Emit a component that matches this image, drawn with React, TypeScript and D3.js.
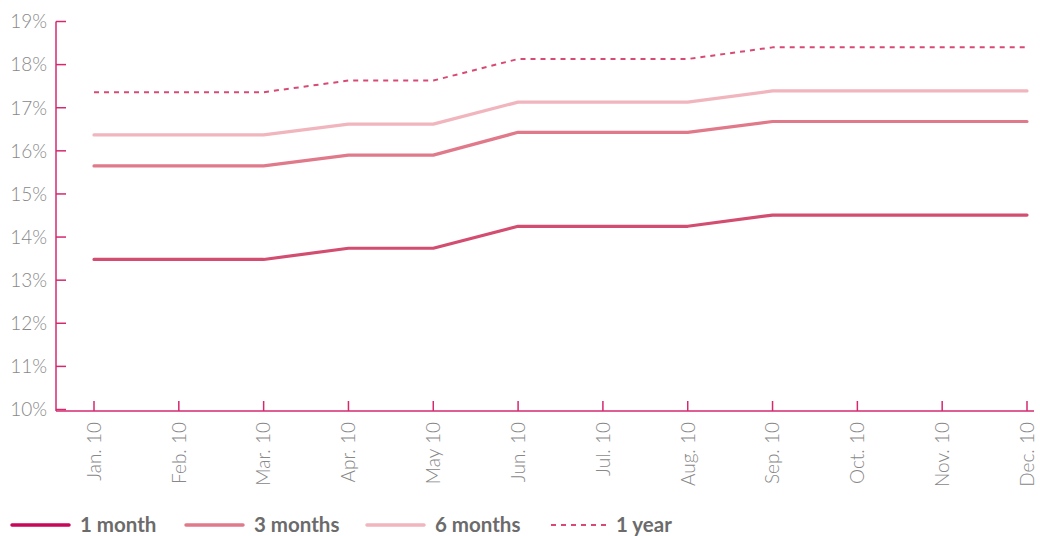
import React from "react";
import * as d3 from "d3";

const months = ["Jan. 10", "Feb. 10", "Mar. 10", "Apr. 10", "May 10", "Jun. 10", "Jul. 10", "Aug. 10", "Sep. 10", "Oct. 10", "Nov. 10", "Dec. 10"];
const oneMonth = [13.48, 13.48, 13.48, 13.74, 13.74, 14.25, 14.25, 14.25, 14.51, 14.51, 14.51, 14.51];
const threeMonths = [15.65, 15.65, 15.65, 15.9, 15.9, 16.43, 16.43, 16.43, 16.68, 16.68, 16.68, 16.68];
const sixMonths = [16.37, 16.37, 16.37, 16.62, 16.62, 17.13, 17.13, 17.13, 17.39, 17.39, 17.39, 17.39];
const oneYear = [17.36, 17.36, 17.36, 17.63, 17.63, 18.13, 18.13, 18.13, 18.4, 18.4, 18.4, 18.4];
const yTicks = [10, 11, 12, 13, 14, 15, 16, 17, 18, 19];

const seriesDefs = [
  { name: "1 month", values: oneMonth, color: "#d24d70", legendColor: "#c8075a", dash: null, width: 3.2 },
  { name: "3 months", values: threeMonths, color: "#e07a8a", legendColor: "#e07a8a", dash: null, width: 3.2 },
  { name: "6 months", values: sixMonths, color: "#f0b5bd", legendColor: "#f0b5bd", dash: null, width: 3.2 },
  { name: "1 year", values: oneYear, color: "#d84a74", legendColor: "#d84a74", dash: "5,5", width: 2 },
];

const legendX = [12, 186, 367, 551];

export default function App() {
  const axisColor = "#d4286f";
  const x = d3.scalePoint<string>().domain(months).range([94, 1027]);
  const y = d3.scaleLinear().domain([10, 19]).range([409.5, 21.5]);
  const line = d3
    .line<number>()
    .x((_, i) => x(months[i]) as number)
    .y((d) => y(d));
  const font = "Lato, 'Open Sans', sans-serif";
  return (
    <svg width={1040} height={536} style={{ position: "absolute", left: 0, top: 0 }} fontFamily={font}>
      <rect width={1040} height={536} fill="#fff" />
      {/* y axis */}
      <line x1={56} x2={56} y1={y(19)} y2={y(10) + 1.5} stroke={axisColor} strokeWidth={1.5} />
      {yTicks.map((t) => (
        <g key={t}>
          <line x1={56} x2={66} y1={y(t)} y2={y(t)} stroke={axisColor} strokeWidth={1.5} />
          <text x={47} y={y(t)} dy="0.36em" textAnchor="end" fontSize={19} fontWeight={300} fill="#888888">
            {t}%
          </text>
        </g>
      ))}
      {/* x axis */}
      <line x1={56} x2={1034} y1={y(10) + 1.5} y2={y(10) + 1.5} stroke={axisColor} strokeWidth={1.5} />
      {months.map((m) => (
        <g key={m}>
          <line x1={x(m)} x2={x(m)} y1={401} y2={y(10) + 1.5} stroke={axisColor} strokeWidth={1.5} />
          <text
            transform={`translate(${x(m)},422) rotate(-90)`}
            dy="0.36em"
            textAnchor="end"
            fontSize={19}
            fontWeight={300}
            fill="#888888"
          >
            {m}
          </text>
        </g>
      ))}
      {/* lines */}
      {seriesDefs.map((s) => (
        <path
          key={s.name}
          d={line(s.values) || ""}
          fill="none"
          stroke={s.color}
          strokeWidth={s.width}
          strokeDasharray={s.dash || undefined}
          strokeLinecap={s.dash ? "butt" : "round"}
          strokeLinejoin="round"
        />
      ))}
      {/* legend */}
      {seriesDefs.map((s, i) => (
        <g key={s.name} transform={`translate(${legendX[i]},525)`}>
          <line
            x1={0}
            x2={s.dash ? 55 : 57}
            y1={0}
            y2={0}
            stroke={s.legendColor}
            strokeWidth={s.dash ? 2 : 3.5}
            strokeDasharray={s.dash || undefined}
            strokeLinecap={s.dash ? "butt" : "round"}
          />
          <text x={s.dash ? 65 : 68} y={0} dy="0.36em" fontSize={20.5} fontWeight={700} fill="#6b6b6b">
            {s.name}
          </text>
        </g>
      ))}
    </svg>
  );
}
